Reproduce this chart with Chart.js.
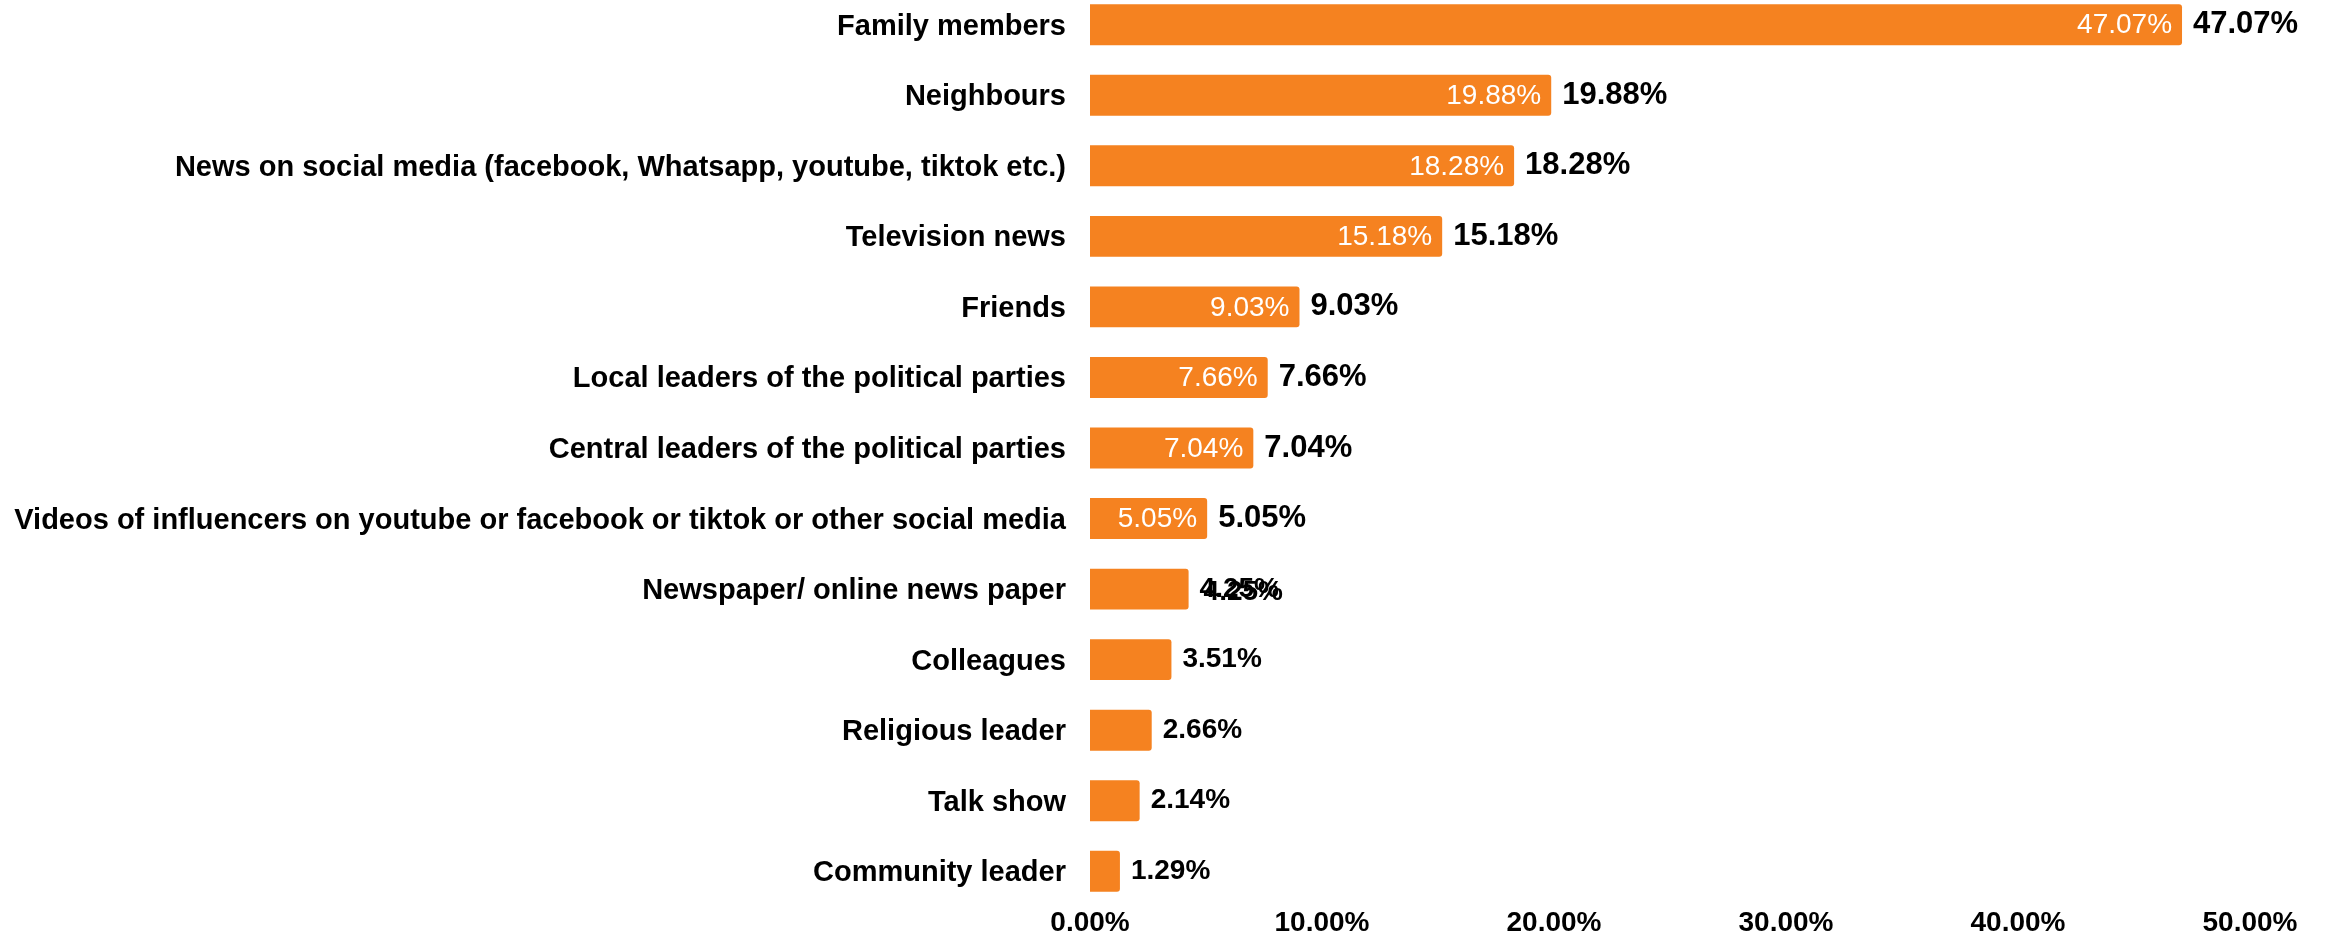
<!DOCTYPE html>
<html>
<head>
<meta charset="utf-8">
<script src="https://cdn.jsdelivr.net/npm/chart.js@4"></script>
<style>
  html, body { margin: 0; padding: 0; background: #fff; overflow: hidden; }
  /* the y tick padding also pads the plot area top and bottom, so the canvas is shifted up */
  #wrap { position: absolute; left: 0; top: -52px; width: 2331px; height: 1000px; }
</style>
</head>
<body>
<div id="wrap"><canvas id="sourcesChart"></canvas></div>
<script>
// information sources, share of respondents (%)
const categories = [
    "Family members",
    "Neighbours",
    "News on social media (facebook, Whatsapp, youtube, tiktok etc.)",
    "Television news",
    "Friends",
    "Local leaders of the political parties",
    "Central leaders of the political parties",
    "Videos of influencers on youtube or facebook or tiktok or other social media",
    "Newspaper/ online news paper",
    "Colleagues",
    "Religious leader",
    "Talk show",
    "Community leader"
];
const shares = [47.07, 19.88, 18.28, 15.18, 9.03, 7.66, 7.04, 5.05, 4.25, 3.51, 2.66, 2.14, 1.29];
const xTicks = [0, 10, 20, 30, 40, 50];

const ORANGE = '#F58220';
const FONT = '"Liberation Sans", Arial, Helvetica, sans-serif';
const pct = v => v.toFixed(2) + '%';

// value labels: white one inside the bar end, bold black one just after it
const barLabels = {
    id: 'barLabels',
    afterDatasetsDraw(chart) {
        const ctx = chart.ctx;
        const meta = chart.getDatasetMeta(0);
        ctx.save();
        ctx.textBaseline = 'middle';
        meta.data.forEach((bar, i) => {
            const v = shares[i];
            const txt = pct(v);
            if (v >= 5) {
                ctx.font = '28px ' + FONT;
                ctx.fillStyle = '#fff';
                ctx.textAlign = 'right';
                ctx.fillText(txt, bar.x - 10, bar.y + 1);
                ctx.font = 'bold 31px ' + FONT;
            } else {
                ctx.font = 'bold 28px ' + FONT;
            }
            ctx.fillStyle = '#000';
            ctx.textAlign = 'left';
            ctx.fillText(txt, bar.x + 11, bar.y);
            // inner label that did not fit ends up on top of the outer one
            if (v >= 4 && v < 5) {
                ctx.font = 'bold 28px ' + FONT;
                ctx.fillText(txt, bar.x + 15, bar.y + 3);
            }
        });
        ctx.restore();
    }
};

new Chart(document.getElementById('sourcesChart'), {
    type: 'bar',
    data: {
        labels: categories,
        datasets: [{
            data: shares,
            backgroundColor: ORANGE,
            borderRadius: 3,
            borderSkipped: 'start',
            categoryPercentage: 1,
            barPercentage: 0.58
        }]
    },
    options: {
        indexAxis: 'y',
        responsive: true,
        maintainAspectRatio: false,
        animation: false,
        layout: { padding: { left: 0, right: 81, top: 0, bottom: 0 } },
        plugins: { legend: { display: false }, tooltip: { enabled: false } },
        scales: {
            x: {
                min: 0, max: 50,
                afterBuildTicks: s => { s.ticks = xTicks.map(v => ({ value: v })); },
                grid: { display: false, drawTicks: false },
                border: { display: false },
                ticks: {
                    padding: 0,
                    color: '#000',
                    font: { family: FONT, size: 28, weight: 'bold' },
                    callback: v => pct(v)
                }
            },
            y: {
                afterFit: s => { s.width = 1090; },
                grid: { display: false, drawTicks: false },
                border: { display: false },
                ticks: {
                    padding: 24,
                    labelOffset: 2,
                    color: '#000',
                    font: { family: FONT, size: 29, weight: 'bold' }
                }
            }
        }
    },
    plugins: [barLabels]
});
</script>
</body>
</html>
